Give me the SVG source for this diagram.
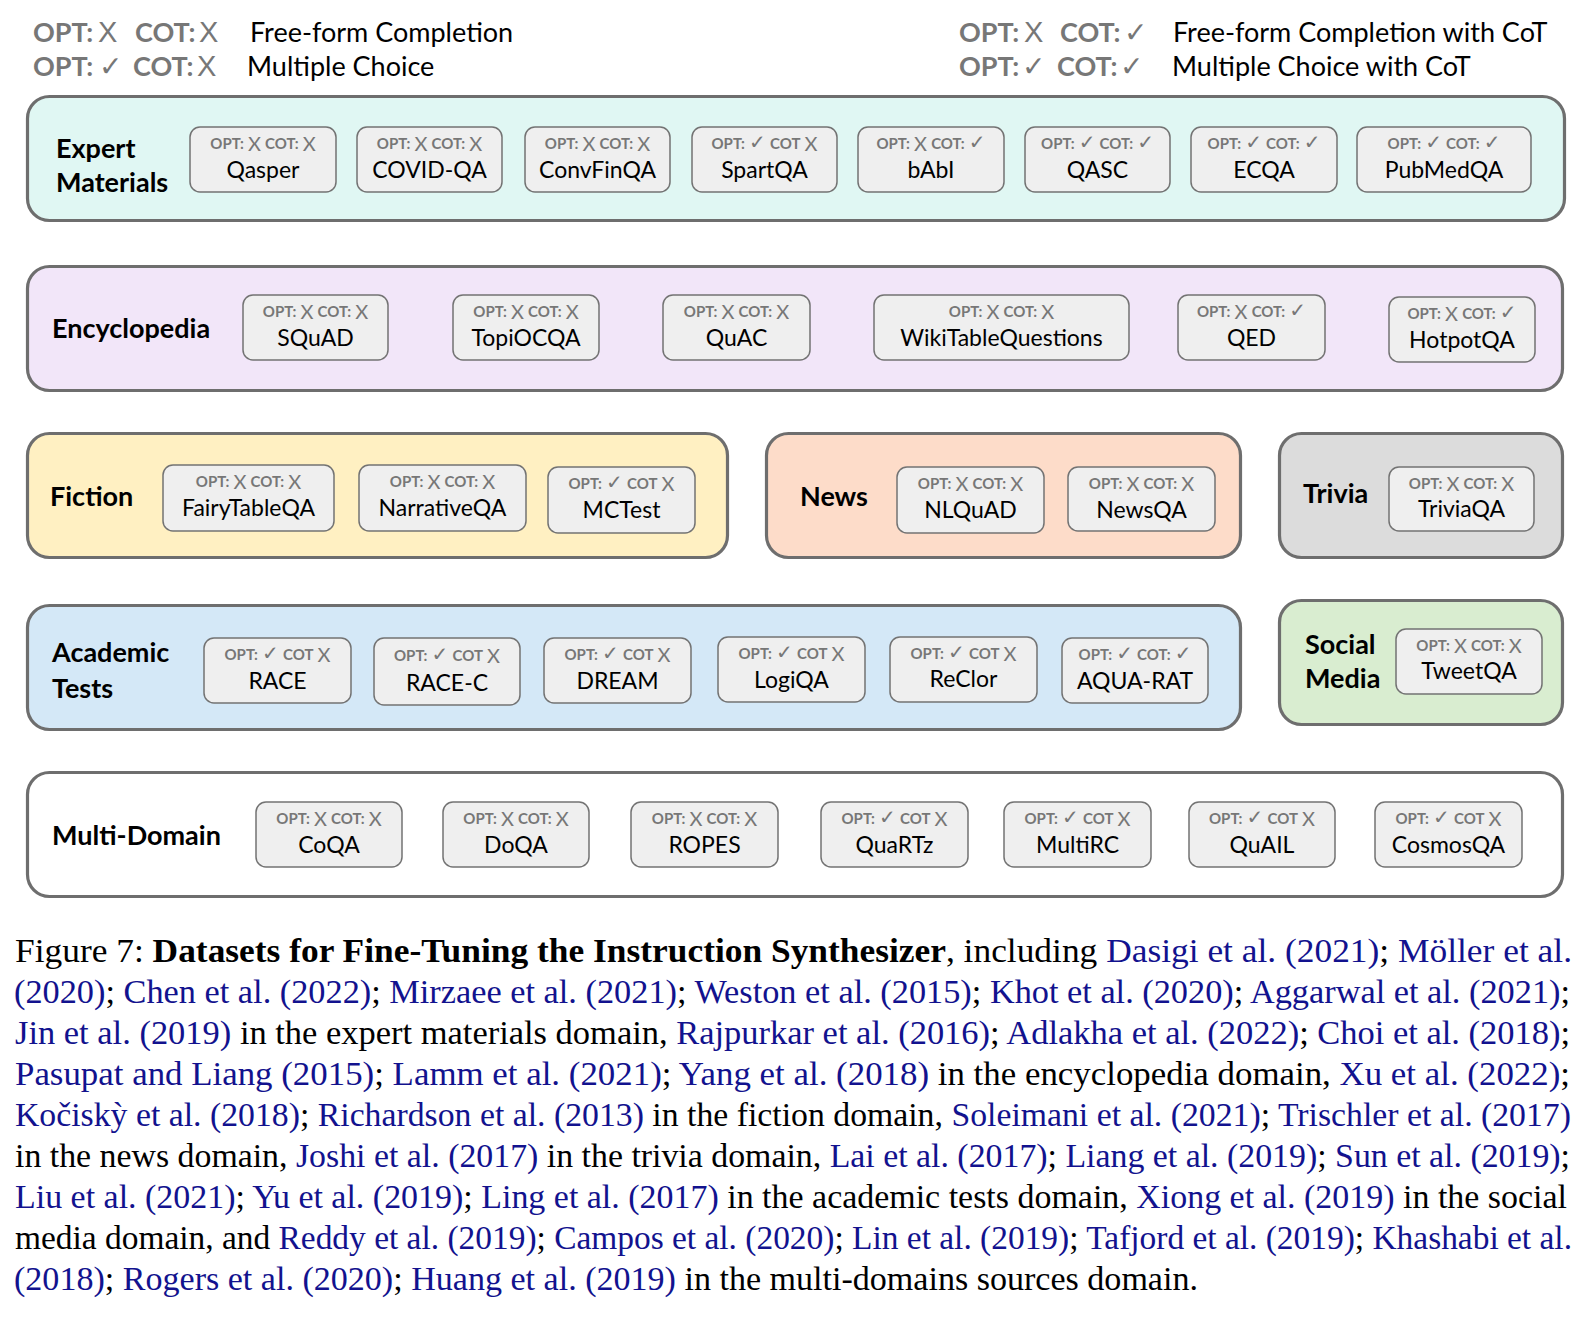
<svg xmlns="http://www.w3.org/2000/svg" width="1588" height="1330" viewBox="0 0 1588 1330">
<style>
text{font-family:Lato,"Noto Sans","Liberation Sans",sans-serif}
.dom{stroke:#6e6e6e;stroke-width:3.2}
.ib{fill:#efefef;stroke:#737373;stroke-width:1.5}
.lab{font-weight:700;font-size:27px;fill:#000}
.n{font-size:23px;fill:#000;text-anchor:middle}
.o{text-anchor:middle;fill:#777}
.k{font-weight:700;font-size:15px}
.s{font-size:20px;font-weight:400}
.v{font-size:20px;font-family:"DejaVu Sans",sans-serif}
.lk{font-weight:700;font-size:27px;fill:#777}
.ls{font-size:29px;fill:#777;font-family:"Liberation Sans",Arial,sans-serif}
.lv{font-size:28px;fill:#777;font-family:"DejaVu Sans",sans-serif}
.ld{font-size:27px;fill:#000}
.cap{font-family:"Liberation Serif","Times New Roman",serif;font-size:34px;fill:#000}
.c{fill:#12128e}
.bd{font-weight:700}
</style>

<g id="legend">
<text y="42"><tspan class="lk" x="33">OPT:</tspan><tspan class="ls" x="98">X</tspan><tspan class="lk" x="135">COT:</tspan><tspan class="ls" x="199">X</tspan><tspan class="ld" x="250">Free-form Completion</tspan></text>
<text y="76"><tspan class="lk" x="33">OPT:</tspan><tspan class="lv" x="99">✓</tspan><tspan class="lk" x="133">COT:</tspan><tspan class="ls" x="197">X</tspan><tspan class="ld" x="247">Multiple Choice</tspan></text>
<text y="42"><tspan class="lk" x="959">OPT:</tspan><tspan class="ls" x="1024">X</tspan><tspan class="lk" x="1060">COT:</tspan><tspan class="lv" x="1124">✓</tspan><tspan class="ld" x="1173">Free-form Completion with CoT</tspan></text>
<text y="76"><tspan class="lk" x="959">OPT:</tspan><tspan class="lv" x="1022">✓</tspan><tspan class="lk" x="1057">COT:</tspan><tspan class="lv" x="1120">✓</tspan><tspan class="ld" x="1172">Multiple Choice with CoT</tspan></text>
</g>

<g id="connectors"/>

<g id="expert-materials">
<rect class="dom" x="27.5" y="96.5" width="1537" height="124" rx="22" fill="#e0f7f3"/>
<text class="lab" x="56" y="157.5">Expert</text>
<text class="lab" x="56" y="192">Materials</text>
<g id="ds-qasper" transform="translate(190,127)"><rect class="ib" width="146" height="65" rx="10"/><text class="o" x="73" y="22"><tspan class="k">OPT:</tspan> <tspan class="s" dy="1.5">X</tspan><tspan dy="-1.5"> </tspan><tspan class="k">COT:</tspan> <tspan class="s" dy="1.5">X</tspan></text><text class="n" x="73" y="51">Qasper</text></g>
<g id="ds-covid-qa" transform="translate(357,127)"><rect class="ib" width="145" height="65" rx="10"/><text class="o" x="72.5" y="22"><tspan class="k">OPT:</tspan> <tspan class="s" dy="1.5">X</tspan><tspan dy="-1.5"> </tspan><tspan class="k">COT:</tspan> <tspan class="s" dy="1.5">X</tspan></text><text class="n" x="72.5" y="51">COVID-QA</text></g>
<g id="ds-convfinqa" transform="translate(525,127)"><rect class="ib" width="145" height="65" rx="10"/><text class="o" x="72.5" y="22"><tspan class="k">OPT:</tspan> <tspan class="s" dy="1.5">X</tspan><tspan dy="-1.5"> </tspan><tspan class="k">COT:</tspan> <tspan class="s" dy="1.5">X</tspan></text><text class="n" x="72.5" y="51">ConvFinQA</text></g>
<g id="ds-spartqa" transform="translate(692,127)"><rect class="ib" width="145" height="65" rx="10"/><text class="o" x="72.5" y="22"><tspan class="k">OPT:</tspan> <tspan class="v">✓</tspan> <tspan class="k">COT</tspan> <tspan class="s" dy="1.5">X</tspan></text><text class="n" x="72.5" y="51">SpartQA</text></g>
<g id="ds-babi" transform="translate(858,127)"><rect class="ib" width="146" height="65" rx="10"/><text class="o" x="73" y="22"><tspan class="k">OPT:</tspan> <tspan class="s" dy="1.5">X</tspan><tspan dy="-1.5"> </tspan><tspan class="k">COT:</tspan> <tspan class="v">✓</tspan></text><text class="n" x="73" y="51">bAbI</text></g>
<g id="ds-qasc" transform="translate(1025,127)"><rect class="ib" width="145" height="65" rx="10"/><text class="o" x="72.5" y="22"><tspan class="k">OPT:</tspan> <tspan class="v">✓</tspan> <tspan class="k">COT:</tspan> <tspan class="v">✓</tspan></text><text class="n" x="72.5" y="51">QASC</text></g>
<g id="ds-ecqa" transform="translate(1191,127)"><rect class="ib" width="146" height="65" rx="10"/><text class="o" x="73" y="22"><tspan class="k">OPT:</tspan> <tspan class="v">✓</tspan> <tspan class="k">COT:</tspan> <tspan class="v">✓</tspan></text><text class="n" x="73" y="51">ECQA</text></g>
<g id="ds-pubmedqa" transform="translate(1357,127)"><rect class="ib" width="174" height="65" rx="10"/><text class="o" x="87" y="22"><tspan class="k">OPT:</tspan> <tspan class="v">✓</tspan> <tspan class="k">COT:</tspan> <tspan class="v">✓</tspan></text><text class="n" x="87" y="51">PubMedQA</text></g>
</g>

<g id="encyclopedia">
<rect class="dom" x="27.5" y="266.5" width="1535" height="124" rx="22" fill="#f2e6f9"/>
<text class="lab" x="52" y="337.5">Encyclopedia</text>
<g id="ds-squad" transform="translate(243,295)"><rect class="ib" width="145" height="65" rx="10"/><text class="o" x="72.5" y="22"><tspan class="k">OPT:</tspan> <tspan class="s" dy="1.5">X</tspan><tspan dy="-1.5"> </tspan><tspan class="k">COT:</tspan> <tspan class="s" dy="1.5">X</tspan></text><text class="n" x="72.5" y="51">SQuAD</text></g>
<g id="ds-topiocqa" transform="translate(453,295)"><rect class="ib" width="146" height="65" rx="10"/><text class="o" x="73" y="22"><tspan class="k">OPT:</tspan> <tspan class="s" dy="1.5">X</tspan><tspan dy="-1.5"> </tspan><tspan class="k">COT:</tspan> <tspan class="s" dy="1.5">X</tspan></text><text class="n" x="73" y="51">TopiOCQA</text></g>
<g id="ds-quac" transform="translate(663,295)"><rect class="ib" width="147" height="65" rx="10"/><text class="o" x="73.5" y="22"><tspan class="k">OPT:</tspan> <tspan class="s" dy="1.5">X</tspan><tspan dy="-1.5"> </tspan><tspan class="k">COT:</tspan> <tspan class="s" dy="1.5">X</tspan></text><text class="n" x="73.5" y="51">QuAC</text></g>
<g id="ds-wikitablequestions" transform="translate(874,295)"><rect class="ib" width="255" height="65" rx="10"/><text class="o" x="127.5" y="22"><tspan class="k">OPT:</tspan> <tspan class="s" dy="1.5">X</tspan><tspan dy="-1.5"> </tspan><tspan class="k">COT:</tspan> <tspan class="s" dy="1.5">X</tspan></text><text class="n" x="127.5" y="51">WikiTableQuestions</text></g>
<g id="ds-qed" transform="translate(1178,295)"><rect class="ib" width="147" height="65" rx="10"/><text class="o" x="73.5" y="22"><tspan class="k">OPT:</tspan> <tspan class="s" dy="1.5">X</tspan><tspan dy="-1.5"> </tspan><tspan class="k">COT:</tspan> <tspan class="v">✓</tspan></text><text class="n" x="73.5" y="51">QED</text></g>
<g id="ds-hotpotqa" transform="translate(1389,297)"><rect class="ib" width="146" height="65" rx="10"/><text class="o" x="73" y="22"><tspan class="k">OPT:</tspan> <tspan class="s" dy="1.5">X</tspan><tspan dy="-1.5"> </tspan><tspan class="k">COT:</tspan> <tspan class="v">✓</tspan></text><text class="n" x="73" y="51">HotpotQA</text></g>
</g>

<g id="fiction">
<rect class="dom" x="27.5" y="433.5" width="700" height="124" rx="22" fill="#fff0c2"/>
<text class="lab" x="50" y="505.5">Fiction</text>
<g id="ds-fairytableqa" transform="translate(163,465)"><rect class="ib" width="171" height="66" rx="10"/><text class="o" x="85.5" y="22"><tspan class="k">OPT:</tspan> <tspan class="s" dy="1.5">X</tspan><tspan dy="-1.5"> </tspan><tspan class="k">COT:</tspan> <tspan class="s" dy="1.5">X</tspan></text><text class="n" x="85.5" y="51">FairyTableQA</text></g>
<g id="ds-narrativeqa" transform="translate(359,465)"><rect class="ib" width="167" height="66" rx="10"/><text class="o" x="83.5" y="22"><tspan class="k">OPT:</tspan> <tspan class="s" dy="1.5">X</tspan><tspan dy="-1.5"> </tspan><tspan class="k">COT:</tspan> <tspan class="s" dy="1.5">X</tspan></text><text class="n" x="83.5" y="51">NarrativeQA</text></g>
<g id="ds-mctest" transform="translate(548,467)"><rect class="ib" width="147" height="66" rx="10"/><text class="o" x="73.5" y="22"><tspan class="k">OPT:</tspan> <tspan class="v">✓</tspan> <tspan class="k">COT</tspan> <tspan class="s" dy="1.5">X</tspan></text><text class="n" x="73.5" y="51">MCTest</text></g>
</g>

<g id="news">
<rect class="dom" x="766.5" y="433.5" width="474" height="124" rx="22" fill="#fddcc9"/>
<text class="lab" x="800" y="505.5">News</text>
<g id="ds-nlquad" transform="translate(897,467)"><rect class="ib" width="147" height="66" rx="10"/><text class="o" x="73.5" y="22"><tspan class="k">OPT:</tspan> <tspan class="s" dy="1.5">X</tspan><tspan dy="-1.5"> </tspan><tspan class="k">COT:</tspan> <tspan class="s" dy="1.5">X</tspan></text><text class="n" x="73.5" y="51">NLQuAD</text></g>
<g id="ds-newsqa" transform="translate(1068,467)"><rect class="ib" width="147" height="64" rx="10"/><text class="o" x="73.5" y="22"><tspan class="k">OPT:</tspan> <tspan class="s" dy="1.5">X</tspan><tspan dy="-1.5"> </tspan><tspan class="k">COT:</tspan> <tspan class="s" dy="1.5">X</tspan></text><text class="n" x="73.5" y="51">NewsQA</text></g>
</g>

<g id="trivia">
<rect class="dom" x="1279.5" y="433.5" width="283" height="124" rx="22" fill="#dcdcdc"/>
<text class="lab" x="1303" y="502.5">Trivia</text>
<g id="ds-triviaqa" transform="translate(1389,467)"><rect class="ib" width="145" height="64" rx="10"/><text class="o" x="72.5" y="22"><tspan class="k">OPT:</tspan> <tspan class="s" dy="1.5">X</tspan><tspan dy="-1.5"> </tspan><tspan class="k">COT:</tspan> <tspan class="s" dy="1.5">X</tspan></text><text class="n" x="72.5" y="50">TriviaQA</text></g>
</g>

<g id="academic-tests">
<rect class="dom" x="27.5" y="605.5" width="1213" height="124" rx="22" fill="#d4e8f7"/>
<text class="lab" x="52" y="661.5">Academic</text>
<text class="lab" x="52" y="698">Tests</text>
<g id="ds-race" transform="translate(204,638)"><rect class="ib" width="147" height="65" rx="10"/><text class="o" x="73.5" y="22"><tspan class="k">OPT:</tspan> <tspan class="v">✓</tspan> <tspan class="k">COT</tspan> <tspan class="s" dy="1.5">X</tspan></text><text class="n" x="73.5" y="51">RACE</text></g>
<g id="ds-race-c" transform="translate(374,638)"><rect class="ib" width="146" height="67" rx="10"/><text class="o" x="73" y="23"><tspan class="k">OPT:</tspan> <tspan class="v">✓</tspan> <tspan class="k">COT</tspan> <tspan class="s" dy="1.5">X</tspan></text><text class="n" x="73" y="53">RACE-C</text></g>
<g id="ds-dream" transform="translate(544,638)"><rect class="ib" width="147" height="65" rx="10"/><text class="o" x="73.5" y="22"><tspan class="k">OPT:</tspan> <tspan class="v">✓</tspan> <tspan class="k">COT</tspan> <tspan class="s" dy="1.5">X</tspan></text><text class="n" x="73.5" y="51">DREAM</text></g>
<g id="ds-logiqa" transform="translate(718,637)"><rect class="ib" width="147" height="65" rx="10"/><text class="o" x="73.5" y="22"><tspan class="k">OPT:</tspan> <tspan class="v">✓</tspan> <tspan class="k">COT</tspan> <tspan class="s" dy="1.5">X</tspan></text><text class="n" x="73.5" y="51">LogiQA</text></g>
<g id="ds-reclor" transform="translate(890,637)"><rect class="ib" width="147" height="65" rx="10"/><text class="o" x="73.5" y="22"><tspan class="k">OPT:</tspan> <tspan class="v">✓</tspan> <tspan class="k">COT</tspan> <tspan class="s" dy="1.5">X</tspan></text><text class="n" x="73.5" y="50">ReClor</text></g>
<g id="ds-aqua-rat" transform="translate(1062,638)"><rect class="ib" width="146" height="65" rx="10"/><text class="o" x="73" y="22"><tspan class="k">OPT:</tspan> <tspan class="v">✓</tspan> <tspan class="k">COT:</tspan> <tspan class="v">✓</tspan></text><text class="n" x="73" y="51">AQUA-RAT</text></g>
</g>

<g id="social-media">
<rect class="dom" x="1279.5" y="600.5" width="283" height="124" rx="22" fill="#d9edd0"/>
<text class="lab" x="1305" y="653.5">Social</text>
<text class="lab" x="1305" y="688">Media</text>
<g id="ds-tweetqa" transform="translate(1396,629)"><rect class="ib" width="146" height="65" rx="10"/><text class="o" x="73" y="22"><tspan class="k">OPT:</tspan> <tspan class="s" dy="1.5">X</tspan><tspan dy="-1.5"> </tspan><tspan class="k">COT:</tspan> <tspan class="s" dy="1.5">X</tspan></text><text class="n" x="73" y="50">TweetQA</text></g>
</g>

<g id="multi-domain">
<rect class="dom" x="27.5" y="772.5" width="1535" height="124" rx="22" fill="#ffffff"/>
<text class="lab" x="52" y="845">Multi-Domain</text>
<g id="ds-coqa" transform="translate(256,802)"><rect class="ib" width="146" height="65" rx="10"/><text class="o" x="73" y="22"><tspan class="k">OPT:</tspan> <tspan class="s" dy="1.5">X</tspan><tspan dy="-1.5"> </tspan><tspan class="k">COT:</tspan> <tspan class="s" dy="1.5">X</tspan></text><text class="n" x="73" y="51">CoQA</text></g>
<g id="ds-doqa" transform="translate(443,802)"><rect class="ib" width="146" height="65" rx="10"/><text class="o" x="73" y="22"><tspan class="k">OPT:</tspan> <tspan class="s" dy="1.5">X</tspan><tspan dy="-1.5"> </tspan><tspan class="k">COT:</tspan> <tspan class="s" dy="1.5">X</tspan></text><text class="n" x="73" y="51">DoQA</text></g>
<g id="ds-ropes" transform="translate(631,802)"><rect class="ib" width="147" height="65" rx="10"/><text class="o" x="73.5" y="22"><tspan class="k">OPT:</tspan> <tspan class="s" dy="1.5">X</tspan><tspan dy="-1.5"> </tspan><tspan class="k">COT:</tspan> <tspan class="s" dy="1.5">X</tspan></text><text class="n" x="73.5" y="51">ROPES</text></g>
<g id="ds-quartz" transform="translate(821,802)"><rect class="ib" width="147" height="65" rx="10"/><text class="o" x="73.5" y="22"><tspan class="k">OPT:</tspan> <tspan class="v">✓</tspan> <tspan class="k">COT</tspan> <tspan class="s" dy="1.5">X</tspan></text><text class="n" x="73.5" y="51">QuaRTz</text></g>
<g id="ds-multirc" transform="translate(1004,802)"><rect class="ib" width="147" height="65" rx="10"/><text class="o" x="73.5" y="22"><tspan class="k">OPT:</tspan> <tspan class="v">✓</tspan> <tspan class="k">COT</tspan> <tspan class="s" dy="1.5">X</tspan></text><text class="n" x="73.5" y="51">MultiRC</text></g>
<g id="ds-quail" transform="translate(1189,802)"><rect class="ib" width="146" height="65" rx="10"/><text class="o" x="73" y="22"><tspan class="k">OPT:</tspan> <tspan class="v">✓</tspan> <tspan class="k">COT</tspan> <tspan class="s" dy="1.5">X</tspan></text><text class="n" x="73" y="51">QuAIL</text></g>
<g id="ds-cosmosqa" transform="translate(1375,802)"><rect class="ib" width="147" height="65" rx="10"/><text class="o" x="73.5" y="22"><tspan class="k">OPT:</tspan> <tspan class="v">✓</tspan> <tspan class="k">COT</tspan> <tspan class="s" dy="1.5">X</tspan></text><text class="n" x="73.5" y="51">CosmosQA</text></g>
</g>

<g id="caption">
<text class="cap" x="15" y="962" textLength="1557" lengthAdjust="spacingAndGlyphs">Figure 7:  <tspan class="bd">Datasets for Fine-Tuning the Instruction Synthesizer</tspan>, including <tspan class="c">Dasigi et al. (2021)</tspan>; <tspan class="c">Möller et al.</tspan></text>
<text class="cap" x="14" y="1003" textLength="1556" lengthAdjust="spacingAndGlyphs"><tspan class="c">(2020)</tspan>; <tspan class="c">Chen et al. (2022)</tspan>; <tspan class="c">Mirzaee et al. (2021)</tspan>; <tspan class="c">Weston et al. (2015)</tspan>; <tspan class="c">Khot et al. (2020)</tspan>; <tspan class="c">Aggarwal et al. (2021)</tspan>;</text>
<text class="cap" x="15" y="1044" textLength="1555" lengthAdjust="spacingAndGlyphs"><tspan class="c">Jin et al. (2019)</tspan> in the expert materials domain, <tspan class="c">Rajpurkar et al. (2016)</tspan>; <tspan class="c">Adlakha et al. (2022)</tspan>; <tspan class="c">Choi et al. (2018)</tspan>;</text>
<text class="cap" x="15" y="1085" textLength="1555" lengthAdjust="spacingAndGlyphs"><tspan class="c">Pasupat and Liang (2015)</tspan>; <tspan class="c">Lamm et al. (2021)</tspan>; <tspan class="c">Yang et al. (2018)</tspan> in the encyclopedia domain, <tspan class="c">Xu et al. (2022)</tspan>;</text>
<text class="cap" x="15" y="1126" textLength="1556" lengthAdjust="spacingAndGlyphs"><tspan class="c">Kočiskỳ et al. (2018)</tspan>; <tspan class="c">Richardson et al. (2013)</tspan> in the fiction domain, <tspan class="c">Soleimani et al. (2021)</tspan>; <tspan class="c">Trischler et al. (2017)</tspan></text>
<text class="cap" x="15" y="1167" textLength="1555" lengthAdjust="spacingAndGlyphs">in the news domain, <tspan class="c">Joshi et al. (2017)</tspan> in the trivia domain, <tspan class="c">Lai et al. (2017)</tspan>; <tspan class="c">Liang et al. (2019)</tspan>; <tspan class="c">Sun et al. (2019)</tspan>;</text>
<text class="cap" x="15" y="1208" textLength="1552" lengthAdjust="spacingAndGlyphs"><tspan class="c">Liu et al. (2021)</tspan>; <tspan class="c">Yu et al. (2019)</tspan>; <tspan class="c">Ling et al. (2017)</tspan> in the academic tests domain, <tspan class="c">Xiong et al. (2019)</tspan> in the social</text>
<text class="cap" x="15" y="1249" textLength="1557" lengthAdjust="spacingAndGlyphs" style="font-size:33px">media domain, and <tspan class="c">Reddy et al. (2019)</tspan>; <tspan class="c">Campos et al. (2020)</tspan>; <tspan class="c">Lin et al. (2019)</tspan>; <tspan class="c">Tafjord et al. (2019)</tspan>; <tspan class="c">Khashabi et al.</tspan></text>
<text class="cap" x="14" y="1290" textLength="1184" lengthAdjust="spacingAndGlyphs"><tspan class="c">(2018)</tspan>; <tspan class="c">Rogers et al. (2020)</tspan>; <tspan class="c">Huang et al. (2019)</tspan> in the multi-domains sources domain.</text>
</g>
</svg>
